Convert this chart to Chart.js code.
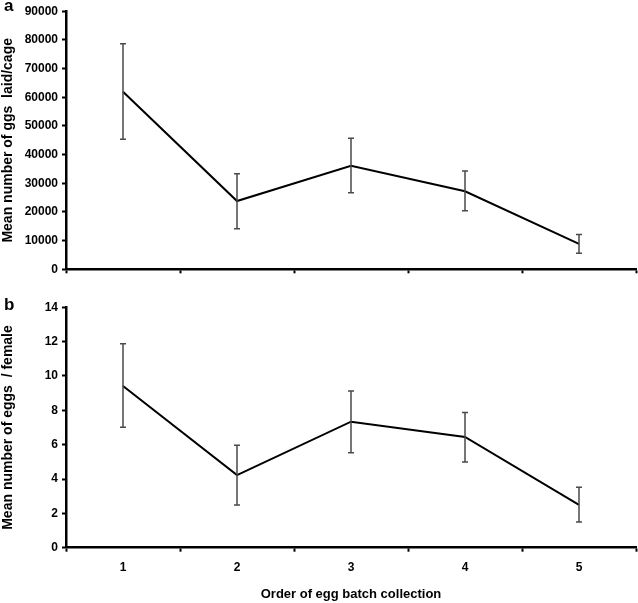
<!DOCTYPE html>
<html>
<head>
<meta charset="utf-8">
<script src="https://cdn.jsdelivr.net/npm/chart.js@4"></script>
<style>
  html, body { margin: 0; padding: 0; background: #fff; }
  #wrap { position: relative; width: 638px; height: 603px; overflow: hidden; }
  canvas { position: absolute; left: 0; }
  #c-top { top: 0; }
  #c-bot { top: 290px; }
  .panel { position: absolute; left: 4px; font: bold 17px "Liberation Sans", Arial, sans-serif; color: #000; }
</style>
</head>
<body>
<div id="wrap">
  <canvas id="c-top" width="638" height="290"></canvas>
  <canvas id="c-bot" width="638" height="313"></canvas>
  <div class="panel" style="top:-4px">a</div>
  <div class="panel" style="top:295px">b</div>
</div>
<script>
"use strict";

// ── Data ──────────────────────────────────────────────────────────────────────
const batches = ["1", "2", "3", "4", "5"];

// panel a: eggs laid per cage
const cageMean = [61950, 23800, 36150, 27200, 8900];
const cageLow  = [45400, 14150, 26700, 20450, 5600];
const cageHigh = [78700, 33350, 45700, 34300, 12100];

// panel b: eggs per female
const femMean = [9.42, 4.23, 7.34, 6.45, 2.50];
const femLow  = [7.01, 2.49, 5.53, 4.99, 1.50];
const femHigh = [11.88, 5.96, 9.12, 7.88, 3.52];

// ── Shared look ───────────────────────────────────────────────────────────────
const FONT = "'Liberation Sans', Arial, sans-serif";
Chart.defaults.font.family = FONT;
Chart.defaults.color = "#000";

// error bars drawn through the chart's own scales
const errorBars = {
  id: "errorBars",
  afterDatasetsDraw(chart, args, opts) {
    const { ctx, scales: { x, y } } = chart;
    ctx.save();
    ctx.strokeStyle = "#4a4a4a";
    ctx.lineWidth = 1.5;
    opts.low.forEach((lo, i) => {
      const px = x.getPixelForValue(i);
      const yLo = y.getPixelForValue(lo);
      const yHi = y.getPixelForValue(opts.high[i]);
      ctx.beginPath();
      ctx.moveTo(px, yLo); ctx.lineTo(px, yHi);
      ctx.moveTo(px - 3, yLo); ctx.lineTo(px + 3, yLo);
      ctx.moveTo(px - 3, yHi); ctx.lineTo(px + 3, yHi);
      ctx.stroke();
    });
    ctx.restore();
  },
};

function makePanel(id, values, low, high, yMax, yStep, yTitle, opt) {
  return new Chart(document.getElementById(id), {
    type: "line",
    data: {
      labels: batches,
      datasets: [{
        data: values,
        borderColor: "#000",
        borderWidth: 2,
        pointRadius: 0,
        tension: 0,
      }],
    },
    options: {
      responsive: false,
      animation: false,
      layout: { padding: { top: opt.top, right: 2, left: 0, bottom: 0 } },
      plugins: {
        legend: { display: false },
        tooltip: { enabled: false },
        errorBars: { low, high },
      },
      scales: {
        x: {
          offset: true,
          grid: {
            offset: true,
            drawOnChartArea: false,
            drawTicks: true,
            tickLength: 4,
            tickWidth: 2,
            tickColor: "#000",
          },
          border: { display: true, color: "#000", width: 2.5 },
          ticks: {
            display: opt.showX,
            padding: 9,
            font: { size: 12, weight: "bold" },
          },
          title: {
            display: opt.showX,
            text: "Order of egg batch collection",
            font: { size: 13, weight: "bold" },
            padding: { top: 0, bottom: 1 },
          },
          afterFit(scale) { scale.height = opt.xHeight; },
        },
        y: {
          min: 0,
          max: yMax,
          ticks: {
            stepSize: yStep,
            padding: 4,
            font: { size: 12, weight: "bold" },
            callback: v => String(v),
          },
          grid: {
            drawOnChartArea: false,
            drawTicks: true,
            tickLength: 4,
            tickWidth: 2,
            tickColor: "#000",
          },
          border: { display: true, color: "#000", width: 2.5 },
          title: {
            display: true,
            text: yTitle,
            font: { size: 14, weight: "bold" },
            padding: { top: 0, bottom: 0 },
          },
          afterFit(scale) { scale.width = 66; },
        },
      },
    },
    plugins: [errorBars],
  });
}

makePanel("c-top", cageMean, cageLow, cageHigh, 90000, 10000,
  "Mean number of ggs  laid/cage",
  { top: 11.3, xHeight: 20.7, showX: false });

makePanel("c-bot", femMean, femLow, femHigh, 14, 2,
  "Mean number of eggs  / female",
  { top: 17.3, xHeight: 55.3, showX: true });
</script>
</body>
</html>
